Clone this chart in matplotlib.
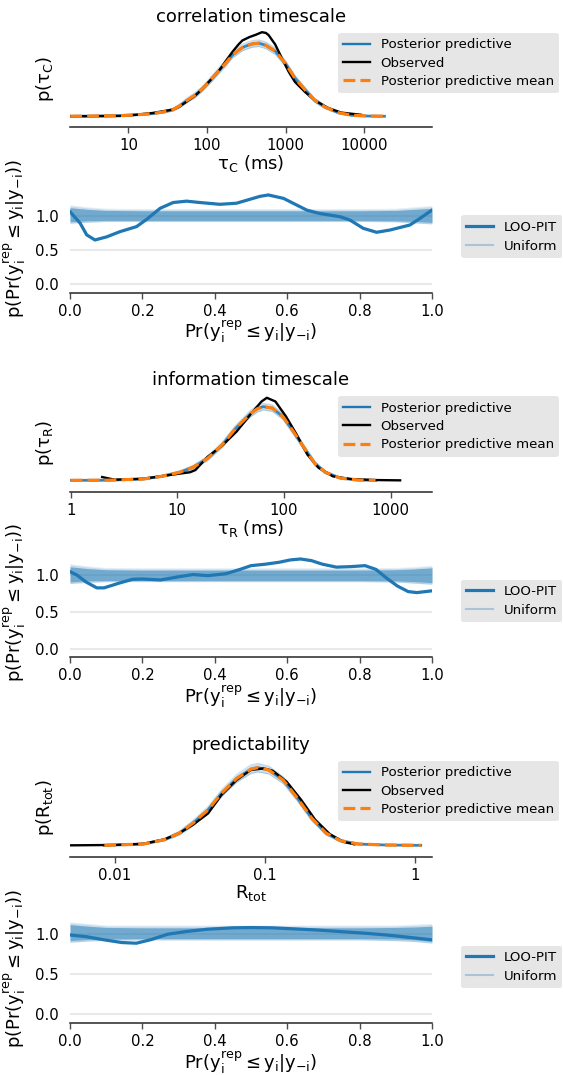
import numpy as np
import matplotlib
matplotlib.use('Agg')
import matplotlib.pyplot as plt
from matplotlib.lines import Line2D
from matplotlib.ticker import NullLocator

plt.rcParams['font.family'] = ['DejaVu Sans']
plt.rcParams['mathtext.default'] = 'regular'

# ------------------------------------------------------------------ data
titles = ['correlation timescale', 'information timescale', 'predictability']
ppc_xlabels = [r'$\tau_C$ (ms)', r'$\tau_R$ (ms)', r'$R_{tot}$']
ppc_ylabels = [r'$p(\tau_C)$', r'$p(\tau_R)$', r'$p(R_{tot})$']
loo_xlabel = r'$Pr(y_i^{rep} \leq y_i | y_{-i})$'
loo_ylabel = r'$p(Pr(y_i^{rep} \leq y_i | y_{-i}))$'

tick_vals = [[10, 100, 1000, 10000], [1, 10, 100, 1000], [0.01, 0.1, 1]]
tick_labels = [['10', '100', '1000', '10000'], ['1', '10', '100', '1000'],
               ['0.01', '0.1', '1']]
xlims = [(1.81, 73100), (0.985, 2450), (0.00503, 1.29)]

# correlation timescale (x in log10 ms)
tc_mean_x = [0.26, 0.6, 0.89, 1.1, 1.31, 1.45, 1.567, 1.65, 1.737, 1.85, 1.947, 2.05, 2.158,
             2.25, 2.327, 2.40, 2.45, 2.52, 2.58, 2.66, 2.75, 2.87, 3.0, 3.12, 3.25, 3.37,
             3.5, 3.67, 3.84, 4.05, 4.26]
tc_mean_d = [0.0, 0.003, 0.008, 0.02, 0.037, 0.06, 0.09, 0.14, 0.21, 0.29, 0.38, 0.50, 0.63,
             0.74, 0.84, 0.90, 0.94, 0.97, 0.99, 1.0, 0.97, 0.89, 0.72, 0.52, 0.36, 0.22,
             0.128, 0.05, 0.014, 0.003, 0.0]
tc_spread = [0.004, 0.005, 0.006, 0.008, 0.012, 0.015, 0.02, 0.025, 0.03, 0.035, 0.035, 0.04,
             0.04, 0.04, 0.04, 0.045, 0.045, 0.045, 0.045, 0.045, 0.045, 0.045, 0.04, 0.04,
             0.035, 0.03, 0.025, 0.015, 0.01, 0.006, 0.004]
tc_obs_x = [0.26, 0.6, 0.89, 1.1, 1.31, 1.45, 1.567, 1.65, 1.737, 1.85, 1.947, 2.05, 2.158,
            2.25, 2.327, 2.40, 2.45, 2.54, 2.62, 2.70, 2.75, 2.785, 2.87, 2.955, 3.04, 3.12,
            3.25, 3.37, 3.54, 3.71, 3.96]
tc_obs_d = [0.0, 0.002, 0.004, 0.02, 0.045, 0.07, 0.092, 0.13, 0.197, 0.28, 0.38, 0.50, 0.63,
            0.77, 0.884, 0.98, 1.036, 1.083, 1.114, 1.15, 1.14, 1.11, 0.98, 0.79, 0.61, 0.47,
            0.33, 0.22, 0.114, 0.05, 0.02]

# information timescale (x in log10 ms)
tr_mean_x = [0.0, 0.35, 0.68, 0.85, 1.02, 1.15, 1.285, 1.42, 1.55, 1.69, 1.75, 1.805, 1.89,
             1.99, 2.09, 2.19, 2.29, 2.39, 2.53, 2.69, 2.86]
tr_mean_d = [0.0, 0.002, 0.018, 0.054, 0.108, 0.18, 0.30, 0.48, 0.71, 0.91, 0.97, 1.0, 0.98,
             0.865, 0.66, 0.44, 0.23, 0.108, 0.03, 0.005, 0.0]
tr_spread = [0.004, 0.005, 0.008, 0.012, 0.02, 0.025, 0.03, 0.035, 0.04, 0.045, 0.045, 0.045,
             0.045, 0.04, 0.04, 0.035, 0.03, 0.02, 0.01, 0.005, 0.004]
tr_obs_x = [0.295, 0.41, 0.68, 0.95, 1.12, 1.17, 1.285, 1.42, 1.555, 1.69, 1.79, 1.84, 1.92,
            2.02, 2.12, 2.22, 2.325, 2.46, 2.63, 2.86, 3.09]
tr_obs_d = [0.045, 0.009, 0.022, 0.077, 0.11, 0.14, 0.32, 0.47, 0.66, 0.90, 1.07, 1.12, 1.07,
            0.865, 0.62, 0.35, 0.17, 0.054, 0.018, 0.004, 0.0]

# predictability (x in log10 R_tot)
rt_mean_x = [-2.07, -1.81, -1.67, -1.57, -1.48, -1.38, -1.29, -1.19, -1.095, -1.05, -0.976,
             -0.88, -0.786, -0.69, -0.595, -0.5, -0.38, -0.19, 0.036]
rt_mean_d = [0.0, 0.017, 0.073, 0.158, 0.286, 0.457, 0.67, 0.86, 0.98, 1.0, 0.97, 0.84, 0.61,
             0.35, 0.158, 0.06, 0.017, 0.004, 0.0]
rt_spread = [0.004, 0.008, 0.015, 0.025, 0.035, 0.04, 0.045, 0.05, 0.055, 0.055, 0.05, 0.045,
             0.04, 0.035, 0.025, 0.015, 0.008, 0.005, 0.004]
rt_obs_x = [-2.3, -2.0, -1.81, -1.67, -1.57, -1.48, -1.38, -1.29, -1.19, -1.095, -1.01, -0.95,
            -0.857, -0.76, -0.667, -0.57, -0.476, -0.405]
rt_obs_d = [0.0, 0.005, 0.02, 0.077, 0.158, 0.265, 0.41, 0.65, 0.84, 0.97, 0.99, 0.96, 0.82,
            0.585, 0.33, 0.145, 0.043, 0.013]

ppc_ylims = [(-0.147, 1.18), (-0.158, 1.178), (-0.15, 1.124)]

# LOO-PIT curves
tc_pit_x = [0.0, 0.028, 0.046, 0.069, 0.101, 0.138, 0.184, 0.212, 0.249, 0.285, 0.322, 0.359,
            0.414, 0.46, 0.497, 0.525, 0.548, 0.59, 0.626, 0.654, 0.69, 0.746, 0.773, 0.81,
            0.847, 0.884, 0.939, 0.967, 1.0]
tc_pit_d = [1.057, 0.89, 0.72, 0.645, 0.69, 0.766, 0.84, 0.946, 1.106, 1.19, 1.21, 1.19,
            1.164, 1.18, 1.237, 1.28, 1.30, 1.25, 1.154, 1.08, 1.03, 0.984, 0.936, 0.815,
            0.757, 0.79, 0.863, 0.96, 1.08]
tr_pit_x = [0.0, 0.02, 0.044, 0.074, 0.094, 0.133, 0.173, 0.20, 0.25, 0.30, 0.34, 0.38, 0.43,
            0.47, 0.50, 0.54, 0.578, 0.608, 0.637, 0.667, 0.697, 0.736, 0.776, 0.815, 0.845,
            0.875, 0.904, 0.934, 0.958, 1.0]
tr_pit_d = [1.05, 1.0, 0.91, 0.83, 0.83, 0.89, 0.946, 0.95, 0.937, 0.98, 1.01, 0.995, 1.02,
            1.08, 1.13, 1.15, 1.176, 1.207, 1.22, 1.198, 1.15, 1.11, 1.117, 1.13, 1.08, 0.96,
            0.856, 0.78, 0.766, 0.79]
rt_pit_x = [0.0, 0.044, 0.094, 0.143, 0.183, 0.222, 0.27, 0.32, 0.38, 0.45, 0.50, 0.558,
            0.618, 0.677, 0.746, 0.815, 0.875, 0.934, 1.0]
rt_pit_d = [0.99, 0.97, 0.93, 0.896, 0.8875, 0.93, 1.0, 1.033, 1.0625, 1.08, 1.083, 1.08,
            1.067, 1.054, 1.033, 1.0125, 0.99, 0.9625, 0.93]

# uniform reference band (envelope of the uniform KDE draws)
unif_x = [0.0, 0.05, 0.1, 0.2, 0.3, 0.4, 0.5, 0.6, 0.7, 0.8, 0.9, 0.95, 1.0]
tc_band_hi = [1.14, 1.11, 1.09, 1.085, 1.085, 1.085, 1.085, 1.085, 1.085, 1.085, 1.09, 1.11, 1.13]
tc_band_lo = [0.89, 0.905, 0.915, 0.915, 0.915, 0.915, 0.915, 0.915, 0.915, 0.915, 0.91, 0.895, 0.88]
tc_core_hi = [1.115, 1.09, 1.075, 1.07, 1.07, 1.07, 1.07, 1.07, 1.07, 1.07, 1.075, 1.09, 1.105]
tc_core_lo = [0.91, 0.925, 0.93, 0.93, 0.93, 0.93, 0.93, 0.93, 0.93, 0.93, 0.925, 0.915, 0.90]
tr_band_hi = [1.14, 1.11, 1.09, 1.085, 1.085, 1.085, 1.085, 1.085, 1.085, 1.085, 1.09, 1.10, 1.12]
tr_band_lo = [0.89, 0.905, 0.915, 0.915, 0.915, 0.915, 0.915, 0.915, 0.915, 0.915, 0.91, 0.895, 0.88]
tr_core_hi = [1.115, 1.09, 1.075, 1.07, 1.07, 1.07, 1.07, 1.07, 1.07, 1.07, 1.075, 1.085, 1.10]
tr_core_lo = [0.91, 0.925, 0.93, 0.93, 0.93, 0.93, 0.93, 0.93, 0.93, 0.93, 0.925, 0.915, 0.90]
rt_band_hi = [1.14, 1.12, 1.10, 1.10, 1.10, 1.10, 1.10, 1.10, 1.10, 1.10, 1.10, 1.11, 1.12]
rt_band_lo = [0.90, 0.915, 0.925, 0.93, 0.93, 0.93, 0.93, 0.93, 0.93, 0.93, 0.92, 0.91, 0.89]
rt_core_hi = [1.12, 1.10, 1.085, 1.08, 1.08, 1.08, 1.08, 1.08, 1.08, 1.08, 1.085, 1.09, 1.10]
rt_core_lo = [0.92, 0.935, 0.94, 0.945, 0.945, 0.945, 0.945, 0.945, 0.945, 0.945, 0.94, 0.93, 0.91]

loo_ylims = [(-0.122, 1.445), (-0.104, 1.355), (-0.109, 1.24)]
pit_ticks = [0.0, 0.2, 0.4, 0.6, 0.8, 1.0]
pit_ticklabels = ['0.0', '0.2', '0.4', '0.6', '0.8', '1.0']
dens_ticks = [0.0, 0.5, 1.0]
dens_ticklabels = ['0.0', '0.5', '1.0']

ppc_data = [(tc_mean_x, tc_mean_d, tc_spread, tc_obs_x, tc_obs_d),
            (tr_mean_x, tr_mean_d, tr_spread, tr_obs_x, tr_obs_d),
            (rt_mean_x, rt_mean_d, rt_spread, rt_obs_x, rt_obs_d)]
loo_data = [(tc_pit_x, tc_pit_d, tc_band_hi, tc_band_lo, tc_core_hi, tc_core_lo),
            (tr_pit_x, tr_pit_d, tr_band_hi, tr_band_lo, tr_core_hi, tr_core_lo),
            (rt_pit_x, rt_pit_d, rt_band_hi, rt_band_lo, rt_core_hi, rt_core_lo)]

# ------------------------------------------------------------------ layout
W, H = 563, 1075
fig = plt.figure(figsize=(W / 100, H / 100), dpi=100)
fig.patch.set_facecolor('white')
ppc_px = [(30, 127), (393.5, 492), (758, 857)]
loo_px = [(185, 292.7), (549, 657), (915, 1023)]
AX_L, AX_R = 70, 432


def add_ax(top, bottom):
    return fig.add_axes([AX_L / W, 1 - bottom / H, (AX_R - AX_L) / W, (bottom - top) / H])


TICK_FS, LEG_FS, TITLE_FS, LABEL_FS = 10.7, 9.6, 13, 13
SPINE_C = '0.15'
LEG_BG = '#e6e6e6'


def style_bottom(ax):
    for sp in ['left', 'right', 'top']:
        ax.spines[sp].set_visible(False)
    ax.spines['bottom'].set_color(SPINE_C)
    ax.spines['bottom'].set_linewidth(1.1)
    ax.tick_params(axis='x', labelsize=TICK_FS, length=4.5, width=1.0, color='0.3')


def style_legend(leg):
    fr = leg.get_frame()
    fr.set_facecolor(LEG_BG)
    fr.set_edgecolor('none')
    fr.set_alpha(1)


for i in range(3):
    mx, md, sp, ox, od = [np.asarray(a, dtype=float) for a in ppc_data[i]]
    ax = add_ax(*ppc_px[i])
    ax.set_xscale('log')
    xv = 10 ** mx
    ax.fill_between(xv, md - sp, md + sp, color='C0', alpha=0.22, lw=0, zorder=1)
    ax.plot(xv, md + sp, color='C0', alpha=0.25, lw=0.8, zorder=1)
    ax.plot(xv, md - sp, color='C0', alpha=0.25, lw=0.8, zorder=1)
    ax.plot(xv, md, color='C0', lw=2.0, alpha=0.85, zorder=2)
    ax.plot(10 ** ox, od, color='k', lw=1.7, zorder=3)
    ax.plot(xv, md, color='C1', lw=2.3, ls='--', zorder=4)
    ax.set_xlim(*xlims[i])
    ax.set_ylim(*ppc_ylims[i])
    ax.set_xticks(tick_vals[i], tick_labels[i])
    ax.xaxis.set_minor_locator(NullLocator())
    ax.set_yticks([])
    style_bottom(ax)
    ax.set_title(titles[i], fontsize=TITLE_FS)
    ax.set_xlabel(ppc_xlabels[i], fontsize=LABEL_FS, labelpad=0)
    ax.set_ylabel(ppc_ylabels[i], fontsize=LABEL_FS, labelpad=10)
    handles = [Line2D([], [], color='C0', lw=1.7),
               Line2D([], [], color='k', lw=1.7),
               Line2D([], [], color='C1', lw=2.3, ls='--')]
    leg = ax.legend(handles, ['Posterior predictive', 'Observed', 'Posterior predictive mean'],
                    loc='upper left', bbox_to_anchor=(0.740, 0.97), borderaxespad=0,
                    fontsize=LEG_FS, labelspacing=0.4, frameon=True)
    style_legend(leg)

    px, pd_, bhi, blo, chi, clo = [np.asarray(a, dtype=float) for a in loo_data[i]]
    ux = np.asarray(unif_x, dtype=float)
    ax2 = add_ax(*loo_px[i])
    ax2.set_axisbelow(True)
    ax2.grid(axis='y', color='#e3e3e3', lw=1.1)
    ax2.grid(axis='x', visible=False)
    ax2.fill_between(ux, blo, bhi, color='C0', alpha=0.25, lw=0, zorder=1)
    ax2.fill_between(ux, clo, chi, color='C0', alpha=0.5, lw=0, zorder=1)
    ax2.plot(ux, bhi, color='C0', alpha=0.12, lw=1.0, zorder=1)
    ax2.plot(ux, blo, color='C0', alpha=0.12, lw=1.0, zorder=1)
    ax2.plot(px, pd_, color='C0', lw=2.3, zorder=3)
    ax2.set_xlim(0, 1)
    ax2.set_ylim(*loo_ylims[i])
    ax2.set_xticks(pit_ticks, pit_ticklabels)
    ax2.set_yticks(dens_ticks, dens_ticklabels)
    style_bottom(ax2)
    ax2.tick_params(axis='y', labelsize=TICK_FS, length=4.5, width=0)
    ax2.set_xlabel(loo_xlabel, fontsize=LABEL_FS, labelpad=0)
    ax2.set_ylabel(loo_ylabel, fontsize=LABEL_FS, labelpad=5)
    h2 = [Line2D([], [], color='C0', lw=2.3),
          Line2D([], [], color='C0', lw=1.5, alpha=0.3)]
    leg2 = ax2.legend(h2, ['LOO-PIT', 'Uniform'], loc='center left',
                      bbox_to_anchor=(1.08, 0.52), borderaxespad=0,
                      fontsize=LEG_FS, labelspacing=0.45, frameon=True)
    style_legend(leg2)

fig.savefig('out.png', dpi=100, facecolor='white')
